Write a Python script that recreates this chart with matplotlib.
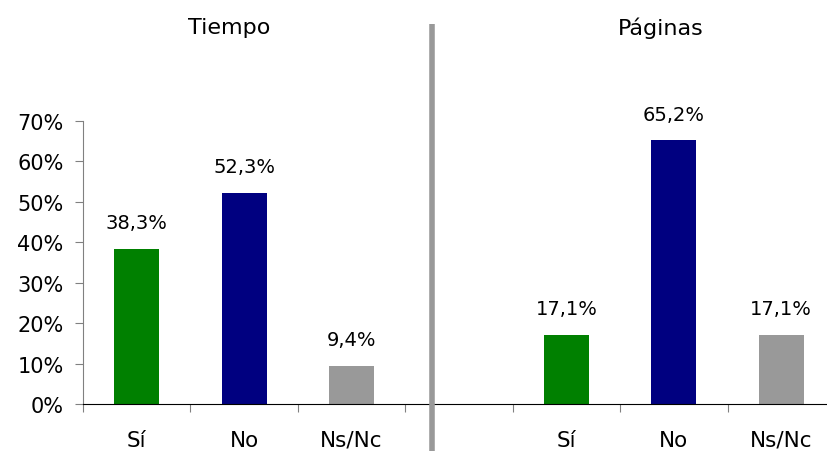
import matplotlib.pyplot as plt
import numpy as np

plt.rcParams["font.family"] = "DejaVu Sans"

# Data
categories = ["Sí", "No", "Ns/Nc"]
tiempo = [38.3, 52.3, 9.4]
paginas = [17.1, 65.2, 17.1]
group_titles = ["Tiempo", "Páginas"]
colors = ["#008000", "#000080", "#999999"]

fig = plt.figure(figsize=(8.28, 4.52), dpi=100)
ax = fig.add_axes([83 / 828, 1 - 405 / 452, (835 - 83) / 828, (405 - 122) / 452])

# slots: 0,1,2 tiempo; 3 empty; 4,5,6 paginas
pos_t = np.arange(len(categories))
pos_p = np.arange(len(categories)) + 4
values = tiempo + paginas
positions = list(pos_t) + list(pos_p)
bars = ax.bar(positions, values, width=0.42, color=colors * 2)

for x, v in zip(positions, values):
    ax.annotate(f"{v:.1f}%".replace(".", ","), (x, v), xytext=(0, 12),
                textcoords="offset points", ha="center", va="bottom", fontsize=14)

ax.set_xlim(-0.5, 6.5)
ax.set_ylim(0, 70)
ax.set_yticks(np.arange(0, 71, 10))
ax.set_yticklabels([f"{t}%" for t in range(0, 71, 10)], fontsize=15)

ax.set_xticks(np.arange(-0.5, 7, 1))
ax.set_xticklabels([])
ax.set_xticks(positions, minor=True)
ax.set_xticklabels(categories * 2, minor=True, fontsize=15.5)
for lbl in ax.get_xticklabels(minor=True):
    lbl.set_va("baseline")
ax.tick_params(axis="x", which="minor", length=0, pad=30)
ax.tick_params(axis="x", which="major", length=6, color="#808080", direction="out")
ax.tick_params(axis="y", length=6, color="#808080", pad=8)

for s in ["top", "right"]:
    ax.spines[s].set_visible(False)
ax.spines["left"].set_color("#808080")
ax.spines["bottom"].set_color("black")

# group titles and separator
fig.text(229 / 828, 1 - 28 / 452, group_titles[0], ha="center", va="center", fontsize=16)
fig.text(661 / 828, 1 - 28 / 452, group_titles[1], ha="center", va="center", fontsize=16)
fig.add_artist(plt.Line2D([432.5 / 828, 432.5 / 828], [0, 1 - 25 / 452],
                          transform=fig.transFigure, color="#999999", linewidth=4,
                          solid_capstyle="butt"))

fig.savefig("out.png", dpi=100)
